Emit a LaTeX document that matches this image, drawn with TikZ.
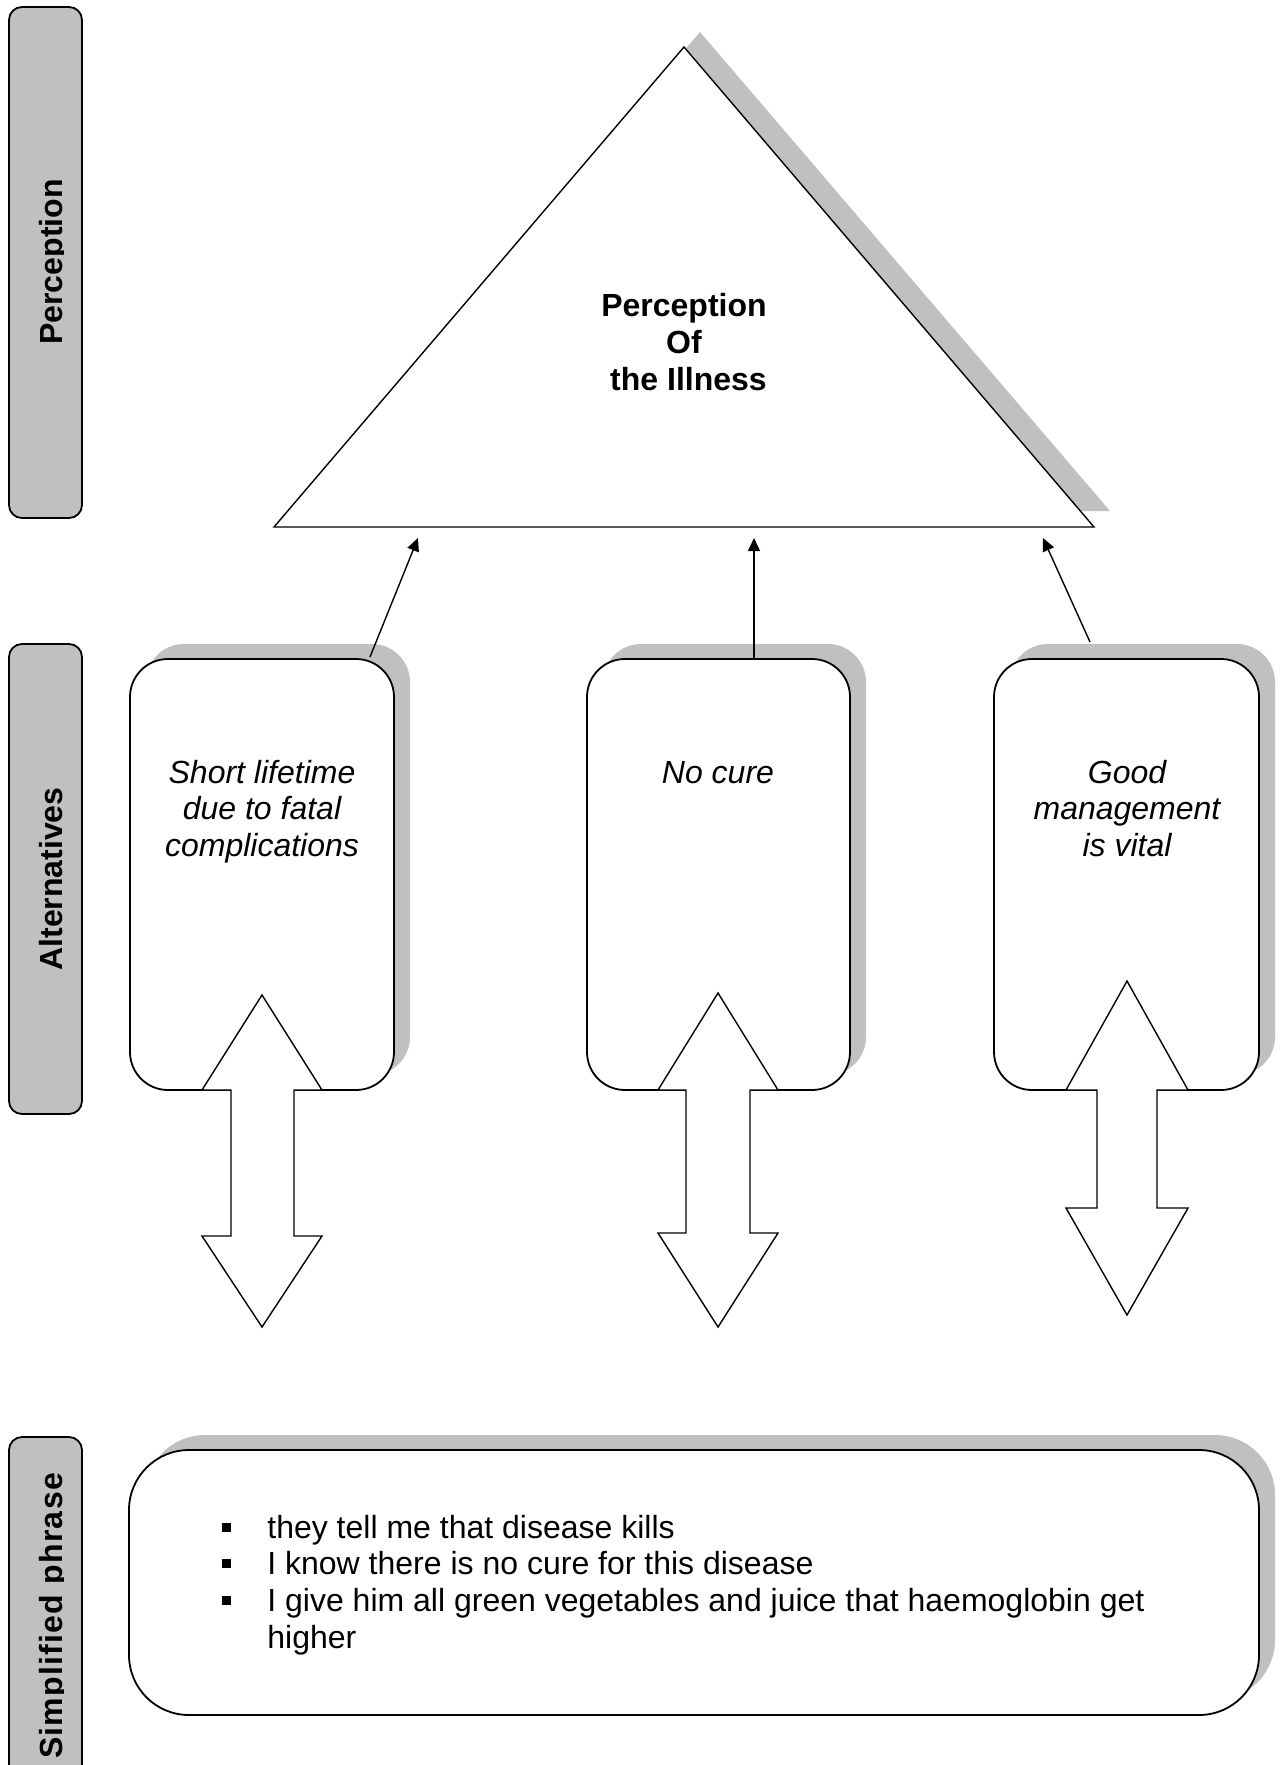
\documentclass[tikz,border=0pt]{standalone}
\usepackage{fontspec}
\setmainfont{Liberation Sans}
\usetikzlibrary{arrows.meta,shadows,calc}
\definecolor{shadowgray}{RGB}{192,192,192}

\begin{document}
\begin{tikzpicture}[x=0.5pt,y=-0.5pt,
  sidebar/.style={draw=black, line width=0.9pt, fill=shadowgray, rounded corners=6.5pt},
  sidelabel/.style={rotate=90, anchor=base, inner sep=0pt,
    font=\fontsize{16}{18.4}\selectfont\bfseries},
  altbox/.style={draw=black, line width=0.9pt, fill=white, rounded corners=19pt,
    inner sep=0pt,
    drop shadow={fill=shadowgray, opacity=1, shadow xshift=8pt, shadow yshift=7.5pt}},
  phrasebox/.style={altbox, rounded corners=30pt},
  bodytext/.style={inner sep=0pt, font=\fontsize{16}{18.4}\selectfont},
  alttext/.style={bodytext, anchor=base, font=\fontsize{16}{18.4}\selectfont\itshape},
  link/.style={line width=0.7pt, -{Triangle[length=6.5pt,width=6pt]}},
  twoway/.style={draw=black, fill=white, line width=0.7pt, line join=miter},
  bulletsq/.style={fill=black, inner sep=0pt, minimum size=4.5pt},
]
\useasboundingbox (0,0) rectangle (1279,1765);
\clip (0,0) rectangle (1279,1765);

% row labels on the left
\draw[sidebar] (9,7) rectangle (82,518);
\draw[sidebar] (9,644) rectangle (82,1114);
\draw[sidebar] (9,1437) rectangle (82,1840);
\begin{scope}
  \clip (0,0) rectangle (63.5,1765);
  \node[sidelabel] (lblperc) at (62,262) {Perception};
  \node[sidelabel] (lblalt) at (62,879) {Alternatives};
  \node[sidelabel, font=\fontsize{16}{18.4}\selectfont\bfseries\addfontfeatures{LetterSpace=4}]
    (lblphr) at (62,1616) {Simplified phrase};
\end{scope}

% the perception triangle with its shadow
\fill[shadowgray] (700,32) -- (1110,511) -- (290,511) -- cycle;
\draw[fill=white, line width=0.7pt] (684,47) -- (1094,527) -- (274,527) -- cycle;
\node[bodytext, anchor=base, font=\fontsize{16}{18.4}\selectfont\bfseries] (perc) at (684,317)
  {\begin{tabular}[t]{@{}c@{}}Perception\\Of\\\hspace*{0.28em}the Illness\end{tabular}};
\coordinate (tipL) at (418,538);
\coordinate (tipM) at (754,538);
\coordinate (tipR) at (1043,538);

% the three alternatives
\node[altbox, minimum width=132pt, minimum height=215.5pt] (altL) at (262,874.5) {};
\node[altbox, minimum width=131.5pt, minimum height=215.5pt] (altM) at (718.5,874.5) {};
\node[altbox, minimum width=132.5pt, minimum height=215.5pt] (altR) at (1126.5,874.5) {};

\node[alttext] (txtL) at (262,783)
  {\begin{tabular}[t]{@{}c@{}}Short lifetime\\due to fatal\\complications\end{tabular}};
\node[alttext] (txtM) at (718,783) {No cure};
\node[alttext] (txtR) at (1127,783)
  {\begin{tabular}[t]{@{}c@{}}Good\\management\\is vital\end{tabular}};

% links up to the triangle
\coordinate (fromL) at (370,657);
\coordinate (fromM) at (754,658);
\coordinate (fromR) at (1090,642);
\draw[link] (fromL) -- (tipL);
\draw[link] (fromM) -- (tipM);
\draw[link] (fromR) -- (tipR);

% two-way block arrows under each alternative
\draw[twoway] (262,995) -- (322,1090) -- (294,1090) -- (294,1236) -- (322,1236)
  -- (262,1327) -- (202,1236) -- (231,1236) -- (231,1090) -- (202,1090) -- cycle;
\draw[twoway] (718,993) -- (778,1090) -- (750,1090) -- (750,1233) -- (778,1233)
  -- (718,1327) -- (658,1233) -- (686,1233) -- (686,1090) -- (658,1090) -- cycle;
\draw[twoway] (1127,981) -- (1188,1090) -- (1157,1090) -- (1157,1208) -- (1188,1208)
  -- (1127,1315) -- (1066,1208) -- (1097,1208) -- (1097,1090) -- (1066,1090) -- cycle;

% simplified phrases
\node[phrasebox, minimum width=565pt, minimum height=132.5pt] (phr) at (694,1582.5) {};
\node[bulletsq] (b1) at (226,1527) {};
\node[bulletsq] (b2) at (226,1563.8) {};
\node[bulletsq] (b3) at (226,1600.6) {};
\node[bodytext, anchor=base west] (phrtxt) at (267,1538)
  {\begin{tabular}[t]{@{}l@{}}they tell me that disease kills\\
   I know there is no cure for this disease\\
   I give him all green vegetables and juice that haemoglobin get\\
   higher\end{tabular}};
\end{tikzpicture}
\end{document}
